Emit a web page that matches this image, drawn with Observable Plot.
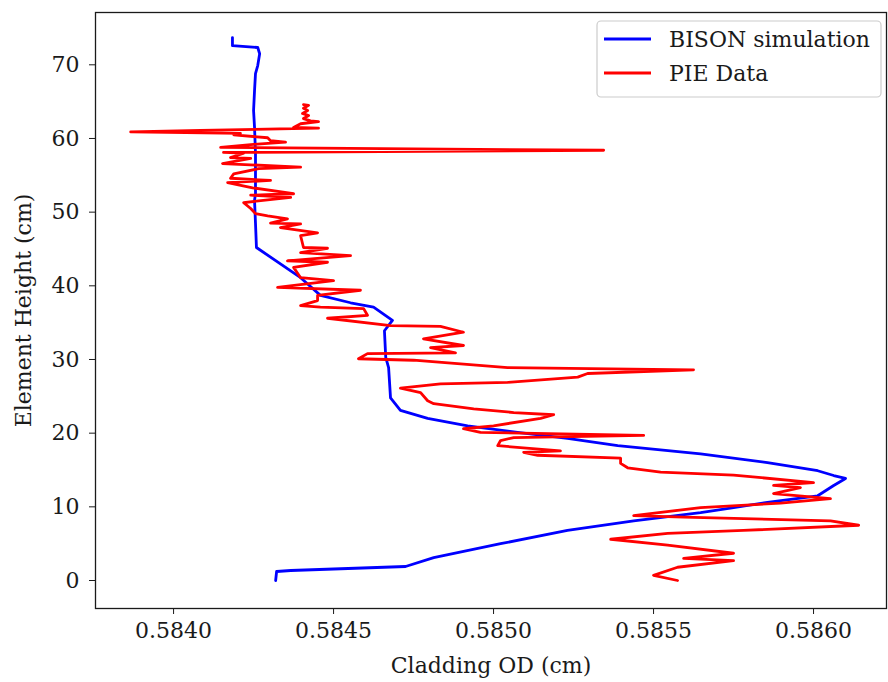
<!DOCTYPE html>
<html><head><meta charset="utf-8">
<script src="https://cdn.jsdelivr.net/npm/d3@7"></script>
<script src="https://cdn.jsdelivr.net/npm/@observablehq/plot@0.6"></script>
<style>
body{margin:0;background:#fff;}
#chart{position:relative;width:888px;height:682px;}
</style></head><body><div id="chart"></div>
<script>
// BISON simulation: cladding OD (cm) vs element height (cm)
const blueOD = [0.584184,0.584184,0.584263,0.584269,0.584263,0.584256,0.584253,0.584250,0.584253,0.584256,0.584256,0.584253,0.584256,0.584259,0.584397,0.584459,0.584553,0.584625,0.584684,0.584659,0.584663,0.584672,0.584678,0.584709,0.584794,0.584919,0.585075,0.585231,0.585388,0.585647,0.585856,0.586013,0.586063,0.586100,0.586063,0.586013,0.585856,0.585647,0.585438,0.585231,0.585022,0.584813,0.584725,0.584366,0.584322,0.584319];
const blueH  = [73.7,72.6,72.35,71.5,69.9,68.8,66.5,63.8,61.5,58.0,52.5,51.6,48.5,45.2,41.1,38.7,37.7,37.1,35.3,33.9,30.3,28.9,24.8,23.1,22.0,21.0,20.1,19.3,18.3,17.2,16.0,14.9,14.25,13.85,12.9,11.5,10.6,9.2,8.1,6.8,5.0,3.1,1.9,1.36,1.22,0.0];

// PIE Data: measured cladding OD (cm) vs element height (cm)
const redOD = [0.584406,0.584422,0.584406,0.584419,0.584403,0.584422,0.584406,0.584428,0.584453,0.584397,0.584375,0.584453,0.584084,0.583866,0.584209,0.584188,0.584294,0.584303,0.584350,0.584250,0.584147,0.585344,0.584156,0.584219,0.584178,0.584241,0.584153,0.584397,0.584266,0.584188,0.584178,0.584303,0.584169,0.584247,0.584375,0.584241,0.584366,0.584219,0.584241,0.584256,0.584294,0.584356,0.584303,0.584397,0.584334,0.584450,0.584397,0.584406,0.584481,0.584397,0.584553,0.584356,0.584481,0.584375,0.584397,0.584500,0.584325,0.584584,0.584450,0.584450,0.584397,0.584459,0.584594,0.584606,0.584481,0.584678,0.584834,0.584906,0.584781,0.584906,0.584803,0.584881,0.584606,0.584578,0.584750,0.585044,0.585625,0.585294,0.585263,0.585044,0.584834,0.584709,0.584772,0.584794,0.584813,0.584938,0.585063,0.585188,0.585147,0.585000,0.584906,0.584959,0.585469,0.585063,0.585022,0.585013,0.585209,0.585094,0.585138,0.585397,0.585397,0.585419,0.585522,0.585750,0.586000,0.585875,0.585959,0.585875,0.586053,0.585897,0.585647,0.585438,0.585594,0.586053,0.586141,0.585781,0.585544,0.585366,0.585544,0.585750,0.585594,0.585750,0.585575,0.585500,0.585575];
const redH  = [64.6,64.5,64.1,63.8,63.4,63.1,62.7,62.4,62.3,62.0,61.5,61.4,61.1,60.9,60.7,60.5,60.1,59.7,59.5,59.2,58.8,58.4,58.1,58.0,57.4,57.3,56.6,56.1,55.9,55.2,54.6,54.3,54.0,53.3,52.5,52.3,52.0,51.3,50.5,49.8,49.5,49.1,48.5,48.4,47.9,47.2,46.8,45.2,45.1,44.5,44.1,43.4,43.2,42.5,41.1,40.7,39.8,39.4,38.7,38.0,37.3,37.1,36.9,36.0,35.6,34.6,34.5,33.7,32.8,31.9,31.6,30.9,30.8,30.1,29.9,28.9,28.6,28.1,27.6,26.9,26.7,26.1,25.5,24.4,24.0,23.3,22.8,22.5,22.0,21.0,20.6,20.1,19.7,19.4,19.0,18.3,17.6,17.4,17.0,16.6,15.9,15.3,14.7,14.3,13.3,12.9,12.6,11.8,11.1,10.5,9.9,8.8,8.6,8.1,7.5,6.8,6.4,5.6,4.8,3.7,3.0,2.7,1.8,0.7,0.0];

const xTicks = [0.5840, 0.5845, 0.5850, 0.5855, 0.5860];
const yTicks = [0, 10, 20, 30, 40, 50, 60, 70];
const seriesNames = ["BISON simulation", "PIE Data"];
const seriesColors = ["#0000ff", "#ff0000"];
const xLabel = "Cladding OD (cm)";
const yLabel = "Element Height (cm)";

const bison = blueOD.map((x, i) => ({x, y: blueH[i]}));
const pie = redOD.map((x, i) => ({x, y: redH[i]}));

const font = "'DejaVu Serif', serif";
const plot = Plot.plot({
  width: 888, height: 682,
  marginLeft: 95, marginRight: 2, marginTop: 12, marginBottom: 74,
  style: {fontFamily: font, fontSize: "22px", color: "#1a1a1a", background: "#fff", overflow: "visible"},
  x: {domain: [0.583756, 0.586228]},
  y: {domain: [-3.8, 77.1]},
  marks: [
    Plot.line(bison, {x: "x", y: "y", stroke: seriesColors[0], strokeWidth: 2.8}),
    Plot.line(pie, {x: "x", y: "y", stroke: seriesColors[1], strokeWidth: 2.8}),
    Plot.frame({stroke: "#1a1a1a", strokeWidth: 1.3}),
    Plot.axisX({ticks: xTicks, tickFormat: d3.format(".4f"), tickSize: 6, tickPadding: 8, label: xLabel, labelAnchor: "center", labelOffset: 64, labelArrow: "none"}),
    Plot.axisY({ticks: yTicks, tickFormat: d3.format("d"), tickSize: 6, tickPadding: 10, label: yLabel, labelAnchor: "center", labelOffset: 80, labelArrow: "none"})
  ]
});
document.getElementById("chart").appendChild(plot);

// legend (inside plot area, upper right)
const svg = d3.select(plot);
const lg = svg.append("g").attr("font-family", font).attr("font-size", 22).attr("fill", "#1a1a1a").attr("text-anchor", "start");
lg.append("rect").attr("x", 597).attr("y", 21).attr("width", 284).attr("height", 76).attr("rx", 4)
  .attr("fill", "#fff").attr("fill-opacity", 0.85).attr("stroke", "#ccc").attr("stroke-width", 1.2);
seriesNames.forEach((n, i) => {
  const yy = 39 + i * 34;
  lg.append("line").attr("x1", 604).attr("x2", 651).attr("y1", yy).attr("y2", yy)
    .attr("stroke", seriesColors[i]).attr("stroke-width", 2.8);
  lg.append("text").attr("x", 669).attr("y", yy).attr("dy", "0.35em").attr("text-anchor", "start").text(n);
});
</script></body></html>
